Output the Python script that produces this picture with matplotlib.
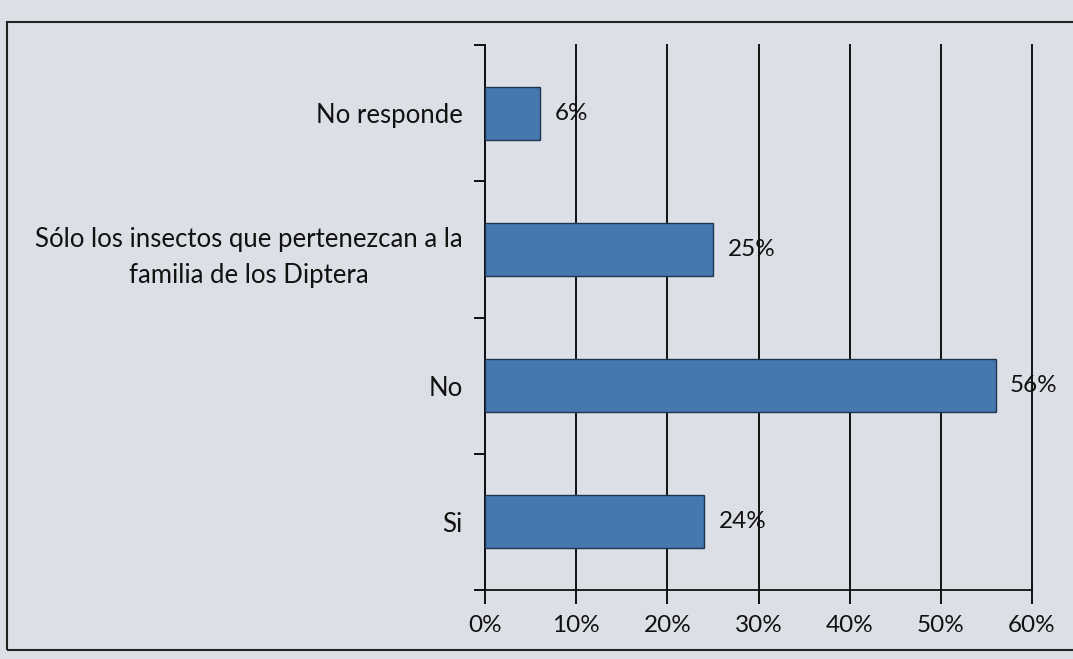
import numpy as np
import matplotlib.pyplot as plt
from matplotlib.patches import Rectangle

# respuestas (de abajo hacia arriba)
categorias = ['Si', 'No', 'Sólo los insectos que pertenezcan a la\nfamilia de los Diptera', 'No responde']
porcentajes = [24, 56, 25, 6]
xticks = [0, 10, 20, 30, 40, 50, 60]

plt.rcParams['font.family'] = ['Lato', 'DejaVu Sans']
bg = '#dddfe7'

fig = plt.figure(figsize=(10.73, 6.59), dpi=100, facecolor=bg)
ax = fig.add_axes([485/1073, 1 - 590/659, (1032-485)/1073, (590-45)/659])
ax.set_facecolor(bg)

y = np.arange(len(categorias))
ax.barh(y, porcentajes, height=0.39, color='#4678b0', edgecolor='#1e3550', linewidth=1.0, zorder=3)

for yi, v in zip(y, porcentajes):
    ax.text(v + 1.6, yi, f'{v}%', va='center', ha='left', fontsize=17.5, color='#111111', zorder=4)

ax.set_xlim(0, 60)
ax.set_ylim(-0.5, len(categorias) - 0.5)
ax.set_xticks(xticks)
ax.set_xticklabels([f'{t}%' for t in xticks], fontsize=17.5, color='#111111')
ax.tick_params(axis='x', length=10, width=1.3, pad=8, direction='out')
ax.grid(axis='x', color='#111111', linewidth=1.4, zorder=1)
for gl in ax.get_xgridlines():
    gl.set_clip_on(False)

ax.set_yticks(y)
ax.set_yticklabels(categorias, fontsize=18.5, color='#111111', linespacing=1.55)
for lbl in ax.get_yticklabels():
    lbl.set_multialignment('center')
ax.tick_params(axis='y', length=0, pad=16)
ax.set_yticks(np.arange(-0.5, len(categorias)), minor=True)
ax.tick_params(axis='y', which='minor', length=8, width=1.3, direction='out')

for s in ['top', 'right']:
    ax.spines[s].set_visible(False)
ax.spines['left'].set_linewidth(1.3)
ax.spines['bottom'].set_linewidth(1.3)
ax.spines['left'].set_color('#111111')
ax.spines['bottom'].set_color('#111111')

# marco exterior
fig.patches.append(Rectangle((7/1073, 1 - 650/659), 1.1, (650-22)/659, transform=fig.transFigure,
                             fill=False, edgecolor='#222222', linewidth=1.5))

fig.savefig('out.png', dpi=100, facecolor=bg)
